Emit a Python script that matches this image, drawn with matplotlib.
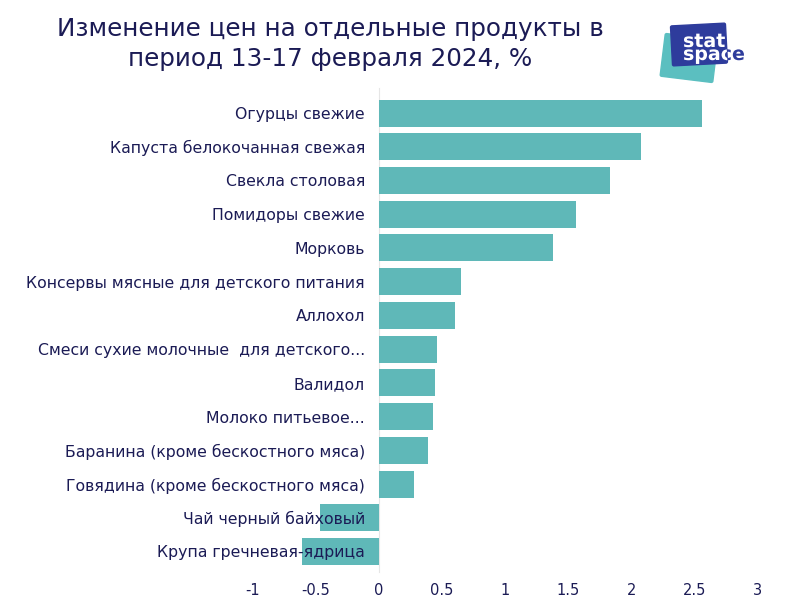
import matplotlib.pyplot as plt
import matplotlib.patches as mpatches
import matplotlib.transforms as mtransforms
from matplotlib.textpath import TextPath
from matplotlib.font_manager import FontProperties

# Данные
products = [
    'Огурцы свежие',
    'Капуста белокочанная свежая',
    'Свекла столовая',
    'Помидоры свежие',
    'Морковь',
    'Консервы мясные для детского питания',
    'Аллохол',
    'Смеси сухие молочные  для детского...',
    'Валидол',
    'Молоко питьевое...',
    'Баранина (кроме бескостного мяса)',
    'Говядина (кроме бескостного мяса)',
    'Чай черный байховый',
    'Крупа гречневая-ядрица',
]
changes = [2.56, 2.08, 1.83, 1.56, 1.38, 0.65, 0.60, 0.46, 0.44, 0.43, 0.39, 0.28, -0.47, -0.61]
xticks = [-1, -0.5, 0, 0.5, 1, 1.5, 2, 2.5, 3]

navy = '#1b1b55'
teal = '#5fb8b8'

plt.rcParams['font.family'] = ['DejaVu Sans']

fig = plt.figure(figsize=(8, 6.05), dpi=100)
ax = fig.add_axes([0.316, 0.055, 0.631, 0.8])

for s in ['top', 'right', 'bottom']:
    ax.spines[s].set_visible(False)
# ось Y проходит через ноль, подписи у нуля
ax.spines['left'].set_position(('data', 0))
ax.spines['left'].set_color('#e6e6e6')
ax.spines['left'].set_zorder(0.5)

y = list(range(len(products)))
ax.barh(y, changes, height=0.8, color=teal, zorder=1)
ax.set_xlim(-1, 3)
ax.set_ylim(len(products) - 0.4, -0.75)

ax.set_yticks(y)
ax.set_yticklabels(products, fontsize=11.3, color=navy)
ax.set_xticks(xticks)
ax.set_xticklabels([f'{t:g}' for t in xticks], fontsize=10.5, color=navy)
ax.tick_params(axis='y', length=0, pad=10)
ax.tick_params(axis='x', length=0, pad=8)

# Заголовок
fig.text(0.413, 0.952, 'Изменение цен на отдельные продукты в', ha='center', va='center',
         fontsize=17.7, color=navy)
fig.text(0.413, 0.902, 'период 13-17 февраля 2024, %', ha='center', va='center',
         fontsize=17.7, color=navy)

# Логотип (координаты в пикселях внутри маленьких осей)
lax = fig.add_axes([655 / 800, 1 - 85 / 605, 100 / 800, 65 / 605])
lax.set_xlim(0, 100)
lax.set_ylim(0, 65)
lax.axis('off')

teal_box = mpatches.FancyBboxPatch((9, 7), 50, 40, boxstyle='round,pad=1.5', color='#5bbfc0')
teal_box.set_transform(mtransforms.Affine2D().rotate_deg_around(34, 27, -7) + lax.transData)
lax.add_patch(teal_box)

navy_box = mpatches.FancyBboxPatch((18, 22), 52, 37, boxstyle='round,pad=1.5', color='#2e3c9c')
navy_box.set_transform(mtransforms.Affine2D().rotate_deg_around(44, 40, 3) + lax.transData)
lax.add_patch(navy_box)

fp = FontProperties(family='DejaVu Sans', weight='bold')
for word, (tx, ty) in [('stat', (28, 38)), ('space', (28, 25))]:
    tp = TextPath((tx, ty), word, size=19, prop=fp)
    lax.add_patch(mpatches.PathPatch(tp, color='#2e3c9c', lw=0))
    white = mpatches.PathPatch(tp, color='white', lw=0)
    lax.add_patch(white)
    white.set_clip_path(navy_box)

plt.savefig('out.png')
